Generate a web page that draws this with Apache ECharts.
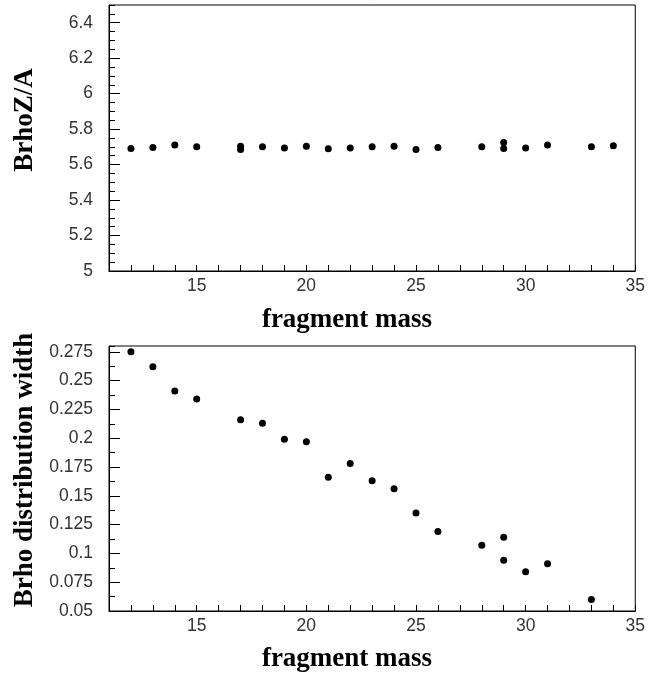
<!DOCTYPE html>
<html>
<head>
<meta charset="utf-8">
<script src="https://cdn.jsdelivr.net/npm/echarts@6/dist/echarts.min.js"></script>
<style>
html,body{margin:0;padding:0;background:#fff;}
#chart{width:648px;height:677px;}
</style>
</head>
<body>
<div id="chart"></div>
<script>
// ---- data ----
var massTop = [12, 13, 14, 15, 17, 17, 18, 19, 20, 21, 22, 23, 24, 25, 26, 28, 29, 29, 30, 31, 33, 34];
var brhoZA  = [5.691, 5.697, 5.711, 5.700, 5.704, 5.685, 5.700, 5.694, 5.704, 5.689, 5.693, 5.700, 5.704, 5.685, 5.697, 5.700, 5.725, 5.691, 5.694, 5.710, 5.700, 5.706];
var massBottom = [12, 13, 14, 15, 17, 18, 19, 20, 21, 22, 23, 24, 25, 26, 28, 29, 29, 30, 31, 33];
var brhoWidth  = [0.275, 0.262, 0.241, 0.234, 0.216, 0.213, 0.199, 0.197, 0.166, 0.178, 0.163, 0.156, 0.135, 0.119, 0.107, 0.114, 0.094, 0.084, 0.091, 0.060];

var xTitle = 'fragment mass';
var yTitleTop = 'BrhoZ/A';
var yTitleBottom = 'Brho distribution width';

function pairs(xs, ys) { return xs.map(function (x, i) { return [x, ys[i]]; }); }

var labelFont = { fontFamily: 'Liberation Sans', fontSize: 17.5, color: '#333' };
var titleFont = { fontFamily: 'Liberation Serif', fontSize: 27, fontWeight: 'bold', fill: '#000' };

function xAxisDef(gi) {
  return {
    type: 'value', gridIndex: gi, min: 11, max: 35, interval: 1,
    axisLine: { show: true, lineStyle: { color: '#000', width: 1 } },
    axisTick: { show: true, inside: true, length: 6, lineStyle: { color: '#000' } },
    axisLabel: Object.assign({ margin: 6, showMinLabel: false, showMaxLabel: true,
      formatter: function (v) { return (v % 5 === 0) ? String(v) : ''; } }, labelFont),
    splitLine: { show: false }
  };
}

var option = {
  animation: false,
  backgroundColor: '#fff',
  grid: [
    { left: 109, top: 5, width: 528, height: 266, show: true, borderColor: '#000', borderWidth: 1 },
    { left: 109, top: 346, width: 528, height: 265, show: true, borderColor: '#000', borderWidth: 1 }
  ],
  xAxis: [xAxisDef(0), xAxisDef(1)],
  yAxis: [
    { // top: major ticks + labels
      type: 'value', gridIndex: 0, position: 'left', min: 5, max: 6.5, interval: 0.2,
      axisLine: { show: true, lineStyle: { color: '#000' } },
      axisTick: { show: true, inside: true, length: 11, lineStyle: { color: '#000' } },
      axisLabel: Object.assign({ margin: 16, showMaxLabel: false }, labelFont),
      splitLine: { show: false }
    },
    { // top: minor ticks
      type: 'value', gridIndex: 0, position: 'left', min: 5, max: 6.5, interval: 0.05,
      axisLine: { show: false },
      axisTick: { show: true, inside: true, length: 6, lineStyle: { color: '#000' } },
      axisLabel: { show: false },
      splitLine: { show: false }
    },
    { // bottom: major ticks + labels
      type: 'value', gridIndex: 1, position: 'left', min: 0.05, max: 0.28, interval: 0.025,
      axisLine: { show: true, lineStyle: { color: '#000' } },
      axisTick: { show: true, inside: true, length: 11, lineStyle: { color: '#000' } },
      axisLabel: Object.assign({ margin: 16, showMaxLabel: false }, labelFont),
      splitLine: { show: false }
    },
    { // bottom: minor ticks
      type: 'value', gridIndex: 1, position: 'left', min: 0.05, max: 0.28, interval: 0.0125,
      axisLine: { show: false },
      axisTick: { show: true, inside: true, length: 6, lineStyle: { color: '#000' } },
      axisLabel: { show: false },
      splitLine: { show: false }
    }
  ],
  series: [
    { type: 'scatter', xAxisIndex: 0, yAxisIndex: 0, symbol: 'circle', symbolSize: 7,
      itemStyle: { color: '#000', opacity: 1 }, data: pairs(massTop, brhoZA) },
    { type: 'scatter', xAxisIndex: 1, yAxisIndex: 2, symbol: 'circle', symbolSize: 7,
      itemStyle: { color: '#000', opacity: 1 }, data: pairs(massBottom, brhoWidth) }
  ],
  graphic: [
    { type: 'text', x: 347, y: 320, style: Object.assign({ text: xTitle, align: 'center', verticalAlign: 'middle' }, titleFont) },
    { type: 'text', x: 347, y: 659, style: Object.assign({ text: xTitle, align: 'center', verticalAlign: 'middle' }, titleFont) },
    { type: 'text', x: 25, y: 120, rotation: Math.PI / 2, style: Object.assign({ text: yTitleTop, align: 'center', verticalAlign: 'middle' }, titleFont) },
    { type: 'text', x: 25, y: 470, rotation: Math.PI / 2, style: Object.assign({ text: yTitleBottom, align: 'center', verticalAlign: 'middle' }, titleFont) }
  ]
};

var chart = echarts.init(document.getElementById('chart'), null, { renderer: 'canvas' });
chart.setOption(option);
</script>
</body>
</html>
